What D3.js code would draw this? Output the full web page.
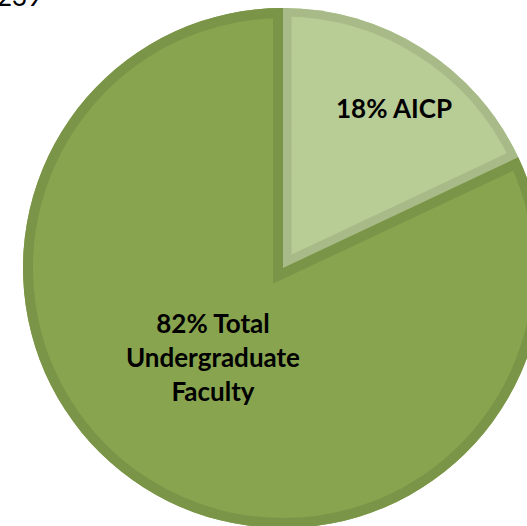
<!DOCTYPE html>
<html>
<head>
<meta charset="utf-8">
<script src="https://cdn.jsdelivr.net/npm/d3@7"></script>
<style>
html,body{margin:0;padding:0;background:#fff;overflow:hidden;}
svg{display:block;}
</style>
</head>
<body>
<svg id="chart" width="527" height="526"></svg>
<script>
const categories = ["AICP", "Total Undergraduate Faculty"];
const values = [18, 82];
const labelLines = [["18% AICP"], ["82% Total", "Undergraduate", "Faculty"]];
const cornerText = "239";

const fills = ["#b8cc96", "#88a44f"];
const strokes = ["#a7ba88", "#7b9548"];
const strokeW = [17, 20];
const labelR = [194, 114];
const labelShiftDeg = [2.5, 5.5];

const svg = d3.select("#chart");
const cx = 283, cy = 268, R = 260;

svg.append("text")
  .attr("x", -3).attr("y", 6)
  .attr("font-family", "Lato, 'Open Sans', sans-serif")
  .attr("font-size", 26)
  .attr("fill", "#000")
  .text(cornerText);

const pie = d3.pie().sort(null).value(d => d)(values);
const arc = d3.arc().innerRadius(0).outerRadius(R);

const g = svg.append("g").attr("transform", `translate(${cx},${cy})`);
const defs = svg.append("defs");

pie.forEach((p, i) => {
  const d = arc(p);
  defs.append("clipPath").attr("id", "clip" + i).append("path").attr("d", d);
  g.append("path").attr("d", d).attr("fill", fills[i]);
  g.append("path").attr("d", d)
    .attr("fill", "none")
    .attr("stroke", strokes[i])
    .attr("stroke-width", strokeW[i])
    .attr("stroke-linejoin", "miter")
    .attr("clip-path", `url(#clip${i})`);
});

pie.forEach((p, i) => {
  const mid = (p.startAngle + p.endAngle) / 2 + labelShiftDeg[i] * Math.PI / 180;
  const x = labelR[i] * Math.sin(mid);
  const y = -labelR[i] * Math.cos(mid);
  const lines = labelLines[i];
  const lh = 34;
  const t = g.append("text")
    .attr("text-anchor", "middle")
    .attr("font-family", "Lato, 'Open Sans', sans-serif")
    .attr("font-weight", "bold")
    .attr("font-size", 26)
    .attr("fill", "#000");
  lines.forEach((ln, k) => {
    t.append("tspan")
      .attr("x", x)
      .attr("y", y + (k - (lines.length - 1) / 2) * lh)
      .attr("dy", "0.35em")
      .text(ln);
  });
});
</script>
</body>
</html>
